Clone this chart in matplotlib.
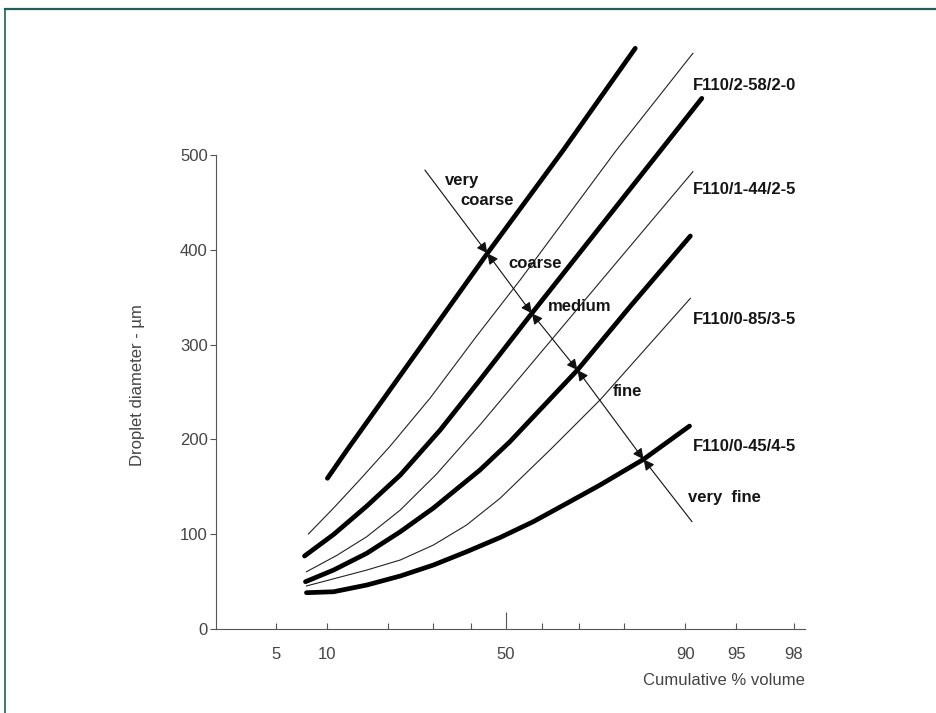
import numpy as np
import matplotlib
matplotlib.use("Agg")
import matplotlib.pyplot as plt
from matplotlib.lines import Line2D
from statistics import NormalDist

# cumulative % volume (probability axis) and droplet diameter (um)
thick1_pct = [10.1, 12.8, 30.2, 44.7, 65.9, 82.2]
thick1_um = [159.0, 188.8, 316.5, 396.3, 505.3, 612.6]

thin1_pct = [7.9, 10.9, 14.85, 20.4, 29.4, 41.7, 54.0, 78.5, 90.9]
thin1_um = [100.2, 127.6, 157.7, 193.0, 243.7, 309.1, 368.1, 505.3, 607.3]

thick2_pct = [7.5, 10.9, 16.0, 22.5, 31.9, 42.6, 57.3, 91.9]
thick2_um = [77.0, 99.7, 129.7, 162.4, 209.9, 262.7, 333.0, 559.8]

thin2_pct = [7.7, 11.3, 16.0, 22.5, 31.0, 42.6, 74.9, 90.9]
thin2_um = [60.4, 77.5, 97.4, 125.5, 163.5, 215.2, 366.0, 482.4]

thick3_pct = [7.6, 10.9, 16.0, 22.5, 30.2, 42.6, 51.1, 69.5, 81.2, 90.6]
thick3_um = [49.9, 62.2, 79.9, 102.6, 127.6, 167.7, 197.6, 273.2, 340.0, 414.6]

thin3_pct = [7.7, 16.0, 22.5, 30.2, 38.9, 48.3, 62.3, 74.9, 90.6]
thin3_um = [45.4, 62.2, 72.8, 88.6, 109.7, 137.9, 188.8, 241.6, 348.8]

thick4_pct = [7.7, 10.9, 16.0, 22.5, 30.2, 38.9, 48.3, 57.7, 66.8, 74.9, 83.7, 90.5]
thick4_um = [38.3, 39.3, 46.4, 55.9, 67.5, 81.5, 96.5, 113.2, 132.6, 151.9, 179.0, 214.1]

# classification line: start, crossings with the four thick curves, end
diag_pct = [28.1, 44.7, 57.3, 69.5, 83.7, 90.8]
diag_um = [484.2, 396.3, 333.0, 273.2, 179.0, 113.2]

nozzle_labels = ["F110/2-58/2-0", "F110/1-44/2-5", "F110/0-85/3-5", "F110/0-45/4-5"]
nozzle_label_um = [573.8, 464.1, 327.0, 193.0]

x_major = [5, 10, 50, 90, 95, 98]
x_minor = [20, 30, 40, 60, 70, 80]
y_ticks = [0, 100, 200, 300, 400, 500]

_nd = NormalDist()
_ppf = np.vectorize(_nd.inv_cdf, otypes=[float])
_cdf = np.vectorize(_nd.cdf, otypes=[float])


def prob_forward(p):
    p = np.clip(np.asarray(p, dtype=float) / 100.0, 1e-9, 1 - 1e-9)
    return _ppf(p)


def prob_inverse(z):
    return _cdf(np.asarray(z, dtype=float)) * 100.0


def main():
    plt.rcParams['font.family'] = ['Liberation Sans', 'DejaVu Sans']

    fig = plt.figure(figsize=(9.36, 7.13), dpi=100)
    ax = fig.add_axes([0.2308, 0.1178, 0.6293, 0.8541])
    ax.set_xscale('function', functions=(prob_forward, prob_inverse))
    ax.set_xlim(1.916, 98.365)
    ax.set_ylim(0, 642.4)

    thick = dict(color='black', lw=3.4, solid_capstyle='round', solid_joinstyle='round')
    thin = dict(color='#222222', lw=0.8)
    ax.plot(thick1_pct, thick1_um, **thick)
    ax.plot(thin1_pct, thin1_um, **thin)
    ax.plot(thick2_pct, thick2_um, **thick)
    ax.plot(thin2_pct, thin2_um, **thin)
    ax.plot(thick3_pct, thick3_um, **thick)
    ax.plot(thin3_pct, thin3_um, **thin)
    ax.plot(thick4_pct, thick4_um, **thick)

    # arrows along the classification line
    arrow_kw = dict(lw=0.8, color='#111111', shrinkA=0, shrinkB=0, mutation_scale=16)
    pts = list(zip(diag_pct, diag_um))
    ax.annotate('', xy=pts[1], xytext=pts[0], arrowprops=dict(arrowstyle='-|>', **arrow_kw))
    for a, b in zip(pts[1:4], pts[2:5]):
        ax.annotate('', xy=b, xytext=a, arrowprops=dict(arrowstyle='<|-|>', **arrow_kw))
    ax.annotate('', xy=pts[4], xytext=pts[5], arrowprops=dict(arrowstyle='-|>', **arrow_kw))

    bold = dict(fontsize=12, fontweight='bold', color='#151515', va='center', ha='left')
    ax.text(33.2, 473.6, 'very', **bold)
    ax.text(37.1, 452.5, 'coarse', **bold)
    ax.text(50.6, 385.5, 'coarse', **bold)
    ax.text(61.8, 340.0, 'medium', **bold)
    ax.text(77.8, 250.3, 'fine', **bold)
    ax.text(90.3, 139.2, 'very  fine', **bold)
    for name, yv in zip(nozzle_labels, nozzle_label_um):
        ax.text(90.92, yv, name, **bold)

    # axes styling
    axis_col = '#555555'
    for side in ['top', 'right']:
        ax.spines[side].set_visible(False)
    ax.spines['left'].set_bounds(0, 500)
    ax.spines['left'].set_color(axis_col)
    ax.spines['bottom'].set_color(axis_col)

    ax.set_xticks(x_major)
    ax.set_xticklabels([str(v) for v in x_major])
    ax.set_xticks(x_minor, minor=True)
    ax.xaxis.set_minor_formatter(plt.NullFormatter())
    ax.tick_params(axis='x', which='both', direction='in', length=4, width=0.8,
                   color=axis_col, pad=13, labelsize=12, labelcolor='#444444')
    ax.xaxis.get_major_ticks()[2].tick1line.set_markersize(12)

    ax.set_yticks(y_ticks)
    ax.tick_params(axis='y', direction='out', length=4, width=0.8, color=axis_col,
                   pad=2, labelsize=12, labelcolor='#444444')

    ax.set_xlabel('Cumulative % volume', loc='right', fontsize=12, color='#444444', labelpad=8)
    ax.set_ylabel('Droplet diameter - µm', fontsize=12, color='#444444')
    ax.yaxis.set_label_coords(-0.12, 0.40)

    # border of the original figure panel
    frame_col = '#1e5f5f'
    fig.add_artist(Line2D([5 / 936, 1], [1 - 9 / 713, 1 - 9 / 713], color=frame_col, lw=1.6))
    fig.add_artist(Line2D([5 / 936, 5 / 936], [0, 1 - 9 / 713], color=frame_col, lw=1.2))

    fig.savefig('out.png', dpi=100)
    plt.close(fig)


if __name__ == '__main__':
    main()
